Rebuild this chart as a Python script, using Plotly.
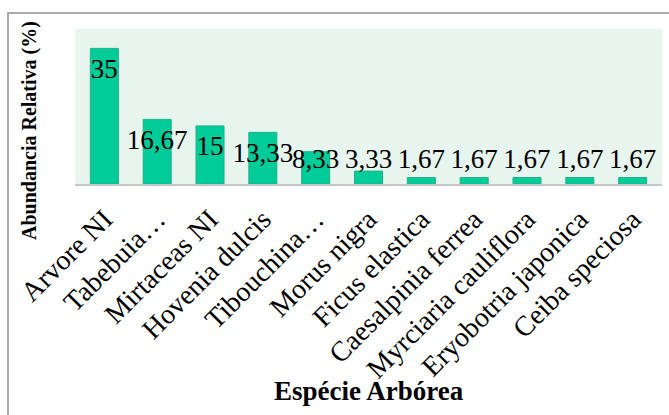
import numpy as np
import plotly.graph_objects as go

# Relative abundance (%) of each tree species
especies = [
    "Arvore NI", "Tabebuia…", "Mirtaceas NI", "Hovenia dulcis", "Tibouchina…",
    "Morus nigra", "Ficus elastica", "Caesalpinia ferrea", "Myrciaria cauliflora",
    "Eryobotria japonica", "Ceiba speciosa",
]
abundancia = [35, 16.67, 15, 13.33, 8.33, 3.33, 1.67, 1.67, 1.67, 1.67, 1.67]
rotulos = ["35", "16,67", "15", "13,33", "8,33", "3,33", "1,67", "1,67", "1,67", "1,67", "1,67"]

W, H = 669, 415
ML, MR, MT, MB = 75, 7, 29, 231
Y_MAX = 40

# Data labels sit just inside the bar top, but never lower than a floor
vals = np.array(abundancia, dtype=float)
desloc = 5.8
label_y = np.maximum(vals - desloc, desloc)

SERIF = "Liberation Serif, Times New Roman, serif"

fig = go.Figure()
fig.add_trace(go.Bar(
    x=especies, y=abundancia,
    marker=dict(color="#00CC99", line=dict(color="#1DB387", width=1)),
    hoverinfo="x+y",
))
fig.add_trace(go.Scatter(
    x=especies, y=label_y, mode="text", text=rotulos,
    textposition="middle center",
    textfont=dict(family=SERIF, size=27, color="#000000"),
    hoverinfo="skip",
))

plot_w = W - ML - MR
plot_h = H - MT - MB


def px_x(px):
    return (px - ML) / plot_w


def px_y(py):
    return (H - MB - py) / plot_h


fig.update_layout(
    width=W, height=H,
    margin=dict(l=ML, r=MR, t=MT, b=MB, autoexpand=False),
    paper_bgcolor="#FFFFFF",
    plot_bgcolor="#E7F5EE",
    showlegend=False,
    bargap=0.47,
    xaxis=dict(
        tickangle=-45,
        tickfont=dict(family=SERIF, size=28, color="#000000"),
        showline=True, linecolor="#C8C8C8", linewidth=1.5,
        # invisible ticks only push the category labels a little further down
        ticks="outside", ticklen=6, tickcolor="rgba(0,0,0,0)",
        showgrid=False, zeroline=False,
        automargin=False,
    ),
    yaxis=dict(
        range=[0, Y_MAX], showticklabels=False, ticks="",
        showgrid=False, zeroline=False, showline=False,
        automargin=False,
    ),
    annotations=[
        dict(text="<b>Espécie Arbórea</b>", xref="paper", yref="paper",
             x=0.5, y=px_y(391), xanchor="center", yanchor="middle",
             showarrow=False, font=dict(family=SERIF, size=27, color="#000000")),
        dict(text="<b>Abundancia Relativa (%)</b>", xref="paper", yref="paper",
             x=px_x(29), y=px_y(131), xanchor="center", yanchor="middle",
             textangle=-90, showarrow=False,
             font=dict(family=SERIF, size=20, color="#000000")),
    ],
    shapes=[
        dict(type="rect", xref="paper", yref="paper",
             x0=px_x(8), x1=px_x(W + 20), y0=px_y(H + 20), y1=px_y(13),
             line=dict(color="#8F8F8F", width=1.5), fillcolor="rgba(0,0,0,0)",
             layer="below"),
    ],
)

fig.write_html("out.html")
